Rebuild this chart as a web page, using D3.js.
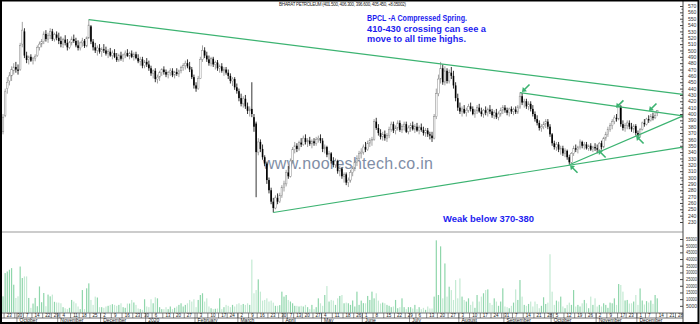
<!DOCTYPE html>
<html>
<head>
<meta charset="utf-8">
<script src="https://cdn.jsdelivr.net/npm/d3@7"></script>
<style>
  body { margin: 0; background: #fff; }
  svg text { font-family: "Liberation Sans", Arial, sans-serif; }
</style>
</head>
<body>
<svg width="700" height="324"></svg>
<script>
// one row per trading day: [open, high, low, close, volume]
const sep19 = [[372,400,368,395,12100],[398,440,395,435,29500],[440,458,432,450,30700],[452,466,445,460,32000],[460,475,452,470,33200],[468,480,462,474,20800],[474,482,465,470,10900]];
const oct19 = [[470,478,462,468,12100],[470,512,468,508,34400],[510,545,505,532,25800],[530,535,488,492,27000],[492,498,480,485,27000],[486,492,478,490,10900],[490,494,482,484,3500],[484,490,478,488,6700],[488,494,483,491,10900],[492,508,490,505,4700],[505,514,500,510,19500],[510,518,505,514,7700],[514,530,510,526,14600],[526,532,514,518,4700],[518,528,512,524,13400],[524,535,518,530,12100],[530,534,515,518,13400],[518,528,514,525,8000],[525,530,516,520,7500]];
const nov19 = [[520,528,510,515,7400],[515,522,505,510,6900],[510,520,504,517,4000],[517,524,508,512,3200],[512,518,500,505,2500],[505,515,502,512,3500],[512,522,508,518,9400],[518,525,512,515,8200],[515,520,505,508,6900],[508,516,500,504,4500],[504,514,500,512,2500],[512,520,506,515,16800],[515,518,504,507,2500],[507,522,505,520,18100],[520,549,518,540,21800],[538,540,510,514,9400],[514,518,500,505,5700],[505,512,496,500,11900],[500,508,492,504,11200],[504,510,495,498,4000]];
const dec19 = [[498,505,490,502,4000],[502,510,496,500,3500],[500,506,492,495,4500],[495,502,488,498,5000],[498,504,490,492,5700],[492,500,486,496,6200],[496,502,488,490,5700],[490,496,482,485,5000],[485,495,482,492,5700],[492,498,484,487,6900],[487,495,482,493,4000],[493,500,488,496,3500],[496,502,490,491,6700],[491,498,486,495,6700],[495,500,488,490,9400],[490,497,484,494,7500],[494,498,486,488,5700],[488,494,480,483,3000],[483,490,476,486,2500],[486,490,472,476,2000],[476,485,472,482,9900]];
const jan20 = [[482,488,474,478,4500],[478,484,468,472,4000],[472,476,460,464,9900],[464,470,456,468,6900],[468,472,450,455,11400],[455,462,448,458,10600],[458,468,452,465,4000],[465,472,460,470,2500],[470,475,462,466,2500],[466,470,458,462,4000],[462,468,456,465,2500],[465,472,460,468,4500],[468,472,458,461,2500],[461,468,456,466,3500],[466,472,460,463,4500],[463,470,458,468,5700],[468,476,464,473,6900],[473,480,468,476,4500],[476,484,470,480,5700],[480,486,472,475,6900],[475,482,466,470,9400],[470,474,455,458,8200],[458,462,440,445,9900]];
const feb20 = [[445,450,435,440,4000],[440,460,438,456,9400],[456,490,455,486,13100],[486,508,482,500,14400],[500,505,488,492,8200],[492,498,482,486,10600],[486,492,476,480,4500],[480,490,475,487,3200],[487,490,474,478,2500],[478,484,470,481,2800],[481,485,468,472,3000],[472,478,465,475,10600],[475,480,465,468,2500],[468,474,460,470,4000],[470,474,462,465,5700],[465,470,455,460,5000],[460,464,448,452,4000],[452,458,444,455,5700],[455,458,438,442,4500],[442,448,432,436,6200]];
const mar20 = [[436,440,420,425,6900],[425,432,412,416,5700],[416,428,410,424,6400],[424,430,408,412,5700],[412,418,400,405,6900],[405,412,396,408,5700],[408,450,395,400,39600],[395,400,372,380,14400],[385,388,269,340,16800],[340,362,335,356,24800],[356,360,340,345,15600],[345,352,328,332,8900],[332,335,318,322,9400],[322,325,290,296,10600],[296,300,275,280,8200],[280,284,258,262,8900],[262,268,245,252,7400],[252,272,250,268,5000],[268,275,258,262,5000],[262,276,260,272,5500],[272,288,268,284,15600]];
const apr20 = [[284,295,278,290,11900],[290,312,286,308,13100],[308,318,298,302,9400],[302,330,300,326,8200],[326,348,322,344,6900],[344,356,338,350,5000],[350,354,340,345,5000],[345,358,342,355,4500],[355,362,348,352,5000],[352,366,350,362,4500],[362,368,352,356,5700],[356,362,348,358,4000],[358,364,350,353,2500],[353,360,346,357,5700],[357,362,350,354,2500],[354,364,350,360,4000],[360,366,355,362,10600],[362,368,354,358,6900]];
const may20 = [[358,362,340,345,5000],[345,352,338,348,13100],[348,350,332,336,19800],[336,342,328,338,8200],[338,340,322,326,9400],[326,332,316,320,8900],[320,330,315,326,5700],[326,328,306,310,10600],[310,318,302,314,12400],[314,316,298,302,13100],[302,308,292,305,6900],[305,308,288,292,7400],[292,300,285,296,6900],[296,312,292,308,5700],[308,318,302,315,9000],[315,328,310,324,4500],[324,335,318,330,15600],[330,342,326,338,5700],[338,346,330,340,8900]];
const jun20 = [[340,352,336,348,7000],[348,356,340,344,6900],[344,358,342,354,12400],[354,362,348,358,9400],[358,364,350,360,15600],[360,392,358,388,10600],[388,394,375,378,14400],[378,384,366,370,8900],[370,376,360,364,6700],[364,372,358,368,7400],[368,374,358,362,6900],[362,370,356,366,5700],[366,380,362,376,5000],[376,388,372,384,4000],[384,388,370,374,4500],[374,382,368,378,9400],[378,390,374,386,3200],[386,390,372,375,4000],[375,384,370,380,10600],[380,388,374,384,4000],[384,388,370,372,2500],[372,382,368,378,4000]];
const jul20 = [[378,386,372,382,4000],[382,388,374,376,3000],[376,384,370,380,5700],[380,386,372,374,2500],[374,382,368,379,4000],[379,385,372,375,2500],[375,380,366,370,3500],[370,378,364,374,2000],[374,378,364,368,4500],[368,372,360,366,3000],[366,372,356,362,3000],[362,400,360,396,11900],[396,440,392,432,54000],[432,462,428,455,13100],[455,482,448,472,49500],[472,478,446,450,10600],[450,475,445,468,36700],[468,472,448,452,11900],[452,470,448,465,19300],[465,474,455,460,16800],[460,468,440,445,9400],[445,450,420,425,24300],[425,432,405,410,10600]];
const aug20 = [[410,418,400,404,25500],[404,412,396,408,11900],[408,414,400,402,9400],[402,410,396,406,8200],[406,416,402,412,10600],[412,418,404,408,5700],[408,412,398,400,8200],[400,408,394,405,3500],[405,414,400,410,13100],[410,416,402,404,8200],[404,410,396,400,11900],[400,408,394,406,14400],[406,412,398,402,16800],[402,410,396,407,17300],[407,414,400,404,7200],[404,408,394,398,5700],[398,406,392,402,10600],[402,408,392,395,8200],[395,404,390,400,5000],[400,410,396,406,8200],[406,414,400,410,18100]];
const sep20 = [[410,414,402,406,4500],[406,410,398,402,4000],[402,410,396,408,3200],[408,412,400,404,5000],[404,410,398,407,7400],[407,412,400,403,17300],[403,414,400,411,9400],[411,434,408,428,24300],[428,433,414,418,11900],[418,424,410,420,5700],[420,424,408,412,5000],[412,420,406,416,6400],[416,420,404,408,8200],[408,414,396,400,4500],[400,404,388,392,8200],[392,398,382,386,6400],[386,390,374,378,3200],[378,384,372,380,5000],[380,388,376,384,11400],[384,392,378,388,6400],[388,392,376,380,7400],[380,384,364,368,43600]];
const oct20 = [[368,370,350,354,15600],[354,358,344,348,5700],[348,356,342,352,8900],[352,356,340,344,8200],[344,350,336,346,11900],[346,350,334,338,4500],[338,346,332,342,3200],[342,344,328,332,5700],[332,336,320,324,7400],[324,340,322,338,5700],[338,350,334,346,16800],[346,352,340,344,4500],[344,350,338,348,5700],[348,360,344,356,4500],[356,358,346,350,6900],[350,356,344,352,9400],[352,356,344,346,6900],[346,352,342,350,3200],[350,354,342,344,11900],[344,350,340,348,5700],[348,354,342,346,10600]];
const nov20 = [[346,352,338,344,4500],[344,356,342,354,5700],[354,358,344,348,4500],[348,364,346,362,6900],[362,372,358,368,5700],[368,380,364,376,3500],[376,386,372,382,7400],[382,392,376,388,6900],[388,398,384,394,10600],[394,400,388,392,5700],[392,416,390,412,21300],[412,414,380,384,20600],[384,390,374,378,15600],[378,386,372,382,9000],[382,390,376,386,9400],[386,390,376,380,6700],[380,386,372,376,6900],[376,384,370,381,8200],[381,384,366,370,13100]];
const dec20 = [[370,374,360,366,5700],[366,378,364,376,18000],[376,388,374,386,9000],[386,392,380,384,6000],[384,394,382,392,8500],[392,398,386,390,7500],[390,400,388,396,9000],[396,402,390,394,6500],[394,404,392,397.4,13100],[401.5,406.3,396.6,405.45,10600]];

const monthRows = [sep19, oct19, nov19, dec19, jan20, feb20, mar20, apr20, may20, jun20, jul20, aug20, sep20, oct20, nov20, dec20];

// NSE calendar
const firstDay = "2019-09-20";
const lastDay = "2020-12-31";
const holidays = ["2019-10-02","2019-10-08","2019-10-21","2019-10-28","2019-11-12","2019-12-25",
  "2020-02-21","2020-03-10","2020-04-02","2020-04-06","2020-04-10","2020-04-14","2020-05-01",
  "2020-05-25","2020-10-02","2020-11-16","2020-11-30","2020-12-25"];
const specialSessions = ["2020-02-01"];
const monthNames = ["2020","February","March","April","May","June","July","August",
  "September","October","November","December"];

const priceTicks = d3.range(230, 571, 10);
const volumeTicks = d3.range(5000, 55001, 5000);

const title = "BHARAT PETROLEUM (401.500, 406.300, 396.600, 405.450, +8.05002)";
const noteLines = ["BPCL -A Compressed Spring.", "410-430 crossing can see a", "move to all time highs."];
const weakNote = "Weak below 370-380";
const watermark = "www.nooreshtech.co.in";

// trend lines: [day index, price, day index, price]
const trendLines = [[40, 548.5, 317, 431], [126, 245, 317, 348], [241, 433.5, 317, 397], [264, 320, 317, 397]];
// arrows: [day index, price, direction]
const arrows = [[243.8, 441, "dl"], [287.6, 416, "dl"], [303, 411, "dl"], [266.2, 313, "ul"], [279.3, 337, "ul"], [297, 359, "ul"]];

const svg = d3.select("svg");
const fmt = d3.utcFormat("%Y-%m-%d");

const skip = new Set(holidays), extra = new Set(specialSessions);
const dates = [];
for (let d = d3.utcParse("%Y-%m-%d")(firstDay); d <= d3.utcParse("%Y-%m-%d")(lastDay); d = d3.utcDay.offset(d, 1)) {
  const wd = d.getUTCDay(), key = fmt(d);
  if ((wd > 0 && wd < 6 && !skip.has(key)) || extra.has(key)) dates.push(d);
}

const candles = monthRows.flat().map((r, i) => ({ i, o: r[0], h: r[1], l: r[2], c: r[3], v: r[4] }));

const x = d3.scaleLinear().domain([0, 317]).range([3, 683]);
const y = d3.scaleLinear().domain([230, 570]).range([222, 6]);
const vy = d3.scaleLinear().domain([0, 55000]).range([312.5, 239]);
const green = "#3cb371";

// volume bars
svg.append("g").selectAll("rect").data(candles).join("rect")
  .attr("x", d => x(d.i) - 0.6).attr("width", 1.2)
  .attr("y", d => vy(d.v)).attr("height", d => vy(0) - vy(d.v))
  .attr("fill", d => d.c >= d.o ? "#8fd6ab" : "#c4ead3");

// watermark
svg.append("text").attr("x", 263).attr("y", 169).attr("font-size", 16)
  .attr("textLength", 170).attr("fill", "#7f8ea6").text(watermark);

// candles
const cg = svg.append("g");
cg.selectAll("line").data(candles).join("line")
  .attr("x1", d => x(d.i)).attr("x2", d => x(d.i))
  .attr("y1", d => y(d.h)).attr("y2", d => y(d.l))
  .attr("stroke", d => d.c >= d.o ? "#8a8a8a" : "#000").attr("stroke-width", 0.8);
cg.selectAll("rect").data(candles).join("rect")
  .attr("x", d => x(d.i) - 0.8).attr("width", 1.6)
  .attr("y", d => y(Math.max(d.o, d.c)))
  .attr("height", d => Math.max(0.8, Math.abs(y(d.o) - y(d.c))))
  .attr("fill", d => d.c >= d.o ? "#fff" : "#000")
  .attr("stroke", d => d.c >= d.o ? "#8a8a8a" : "none").attr("stroke-width", 0.5);

// trend lines
svg.append("g").selectAll("line").data(trendLines).join("line")
  .attr("x1", d => x(d[0])).attr("y1", d => y(d[1]))
  .attr("x2", d => x(d[2])).attr("y2", d => y(d[3]))
  .attr("stroke", green).attr("stroke-width", 1.2);

// arrows
const ag = svg.append("g").selectAll("g").data(arrows).join("g")
  .attr("transform", d => `translate(${x(d[0])},${y(d[1])}) scale(1,${d[2] === "dl" ? 1 : -1})`);
ag.append("line").attr("x1", 3.5).attr("y1", -3.5).attr("x2", -1.5).attr("y2", 1.5)
  .attr("stroke", green).attr("stroke-width", 1.6);
ag.append("path").attr("d", "M-4,4L1,3.2L-3.2,-1Z").attr("fill", green);

// panel separator
svg.append("line").attr("x1", 2).attr("x2", 683).attr("y1", 232).attr("y2", 232)
  .attr("stroke", "#999").attr("stroke-width", 1);

// price axis
const pAxis = svg.append("g").attr("transform", "translate(683,0)")
  .call(d3.axisRight(y).tickValues(priceTicks).tickSize(-3).tickPadding(5).tickFormat(d3.format("d")));
pAxis.select(".domain").remove();
svg.append("g").selectAll("line").data(d3.range(235, 570, 10)).join("line")
  .attr("x1", 681.5).attr("x2", 683).attr("y1", d => y(d)).attr("y2", d => y(d)).attr("stroke", "#444");

// volume axis
const vAxis = svg.append("g").attr("transform", "translate(683,0)")
  .call(d3.axisRight(vy).tickValues(volumeTicks).tickSize(-3).tickPadding(3).tickFormat(d3.format("d")));
vAxis.select(".domain").remove();

svg.selectAll(".tick text").attr("font-size", 5).attr("font-family", "Liberation Sans, Arial").attr("fill", "#333");
vAxis.selectAll(".tick text").attr("font-size", 4.5).attr("textLength", 11).attr("lengthAdjust", "spacingAndGlyphs");
svg.selectAll(".tick line").attr("stroke", "#444");

svg.append("line").attr("x1", 683).attr("x2", 683).attr("y1", 1).attr("y2", 323)
  .attr("stroke", "#444").attr("stroke-width", 1);

// date axis
const step = x(1) - x(0);
const dg = svg.append("g");
[313, 318].forEach(yy => dg.append("line").attr("x1", 2).attr("x2", 683).attr("y1", yy).attr("y2", yy)
  .attr("stroke", "#444").attr("stroke-width", 0.8));
const weekIdx = dates.map((d, i) => i).filter(i => i > 0 && +d3.utcMonday.floor(dates[i]) !== +d3.utcMonday.floor(dates[i - 1]));
const monthIdx = dates.map((d, i) => i).filter(i => i > 0 && dates[i].getUTCMonth() !== dates[i - 1].getUTCMonth());
dg.selectAll("line.w").data(weekIdx).join("line").attr("class", "w")
  .attr("x1", i => x(i) - step / 2).attr("x2", i => x(i) - step / 2).attr("y1", 313).attr("y2", 318)
  .attr("stroke", "#444").attr("stroke-width", 0.6);
dg.selectAll("text.w").data(weekIdx.filter(i => x(i) < 678)).join("text").attr("class", "w")
  .attr("x", i => x(i) + 1.5).attr("y", 317.2).attr("font-size", 4.5).attr("fill", "#222")
  .text(i => dates[i].getUTCDate());
dg.selectAll("line.m").data(monthIdx).join("line").attr("class", "m")
  .attr("x1", i => x(i) - step / 2).attr("x2", i => x(i) - step / 2).attr("y1", 313).attr("y2", 323)
  .attr("stroke", "#444").attr("stroke-width", 0.6);
dg.selectAll("text.m").data(monthIdx).join("text").attr("class", "m")
  .attr("x", i => x(i) + 1.5).attr("y", 322.3).attr("font-size", 5).attr("fill", "#222")
  .text(i => monthNames[dates[i].getUTCMonth()]);

// title and notes
svg.append("text").attr("x", 279).attr("y", 6).attr("font-size", 4.5).attr("fill", "#222")
  .attr("textLength", 127).text(title);
const noteWidths = [100, 119, 99];
svg.append("g").selectAll("text").data(noteLines).join("text")
  .attr("x", 367).attr("y", (d, k) => 21 + k * 10.5)
  .attr("font-family", "DejaVu Sans, Verdana").attr("font-weight", "bold").attr("font-size", 9)
  .attr("fill", "#1d1df0").attr("textLength", (d, k) => noteWidths[k]).attr("lengthAdjust", "spacingAndGlyphs")
  .text(d => d);
svg.append("text").attr("x", 443).attr("y", 222).attr("font-family", "DejaVu Sans, Verdana")
  .attr("font-weight", "bold").attr("font-size", 9).attr("fill", "#1d1df0")
  .attr("textLength", 91).attr("lengthAdjust", "spacingAndGlyphs").text(weakNote);

// outer frame
svg.append("rect").attr("x", 1).attr("y", 0.5).attr("width", 697.5).attr("height", 322.5)
  .attr("fill", "none").attr("stroke", "#000").attr("stroke-width", 2);
</script>
</body>
</html>
